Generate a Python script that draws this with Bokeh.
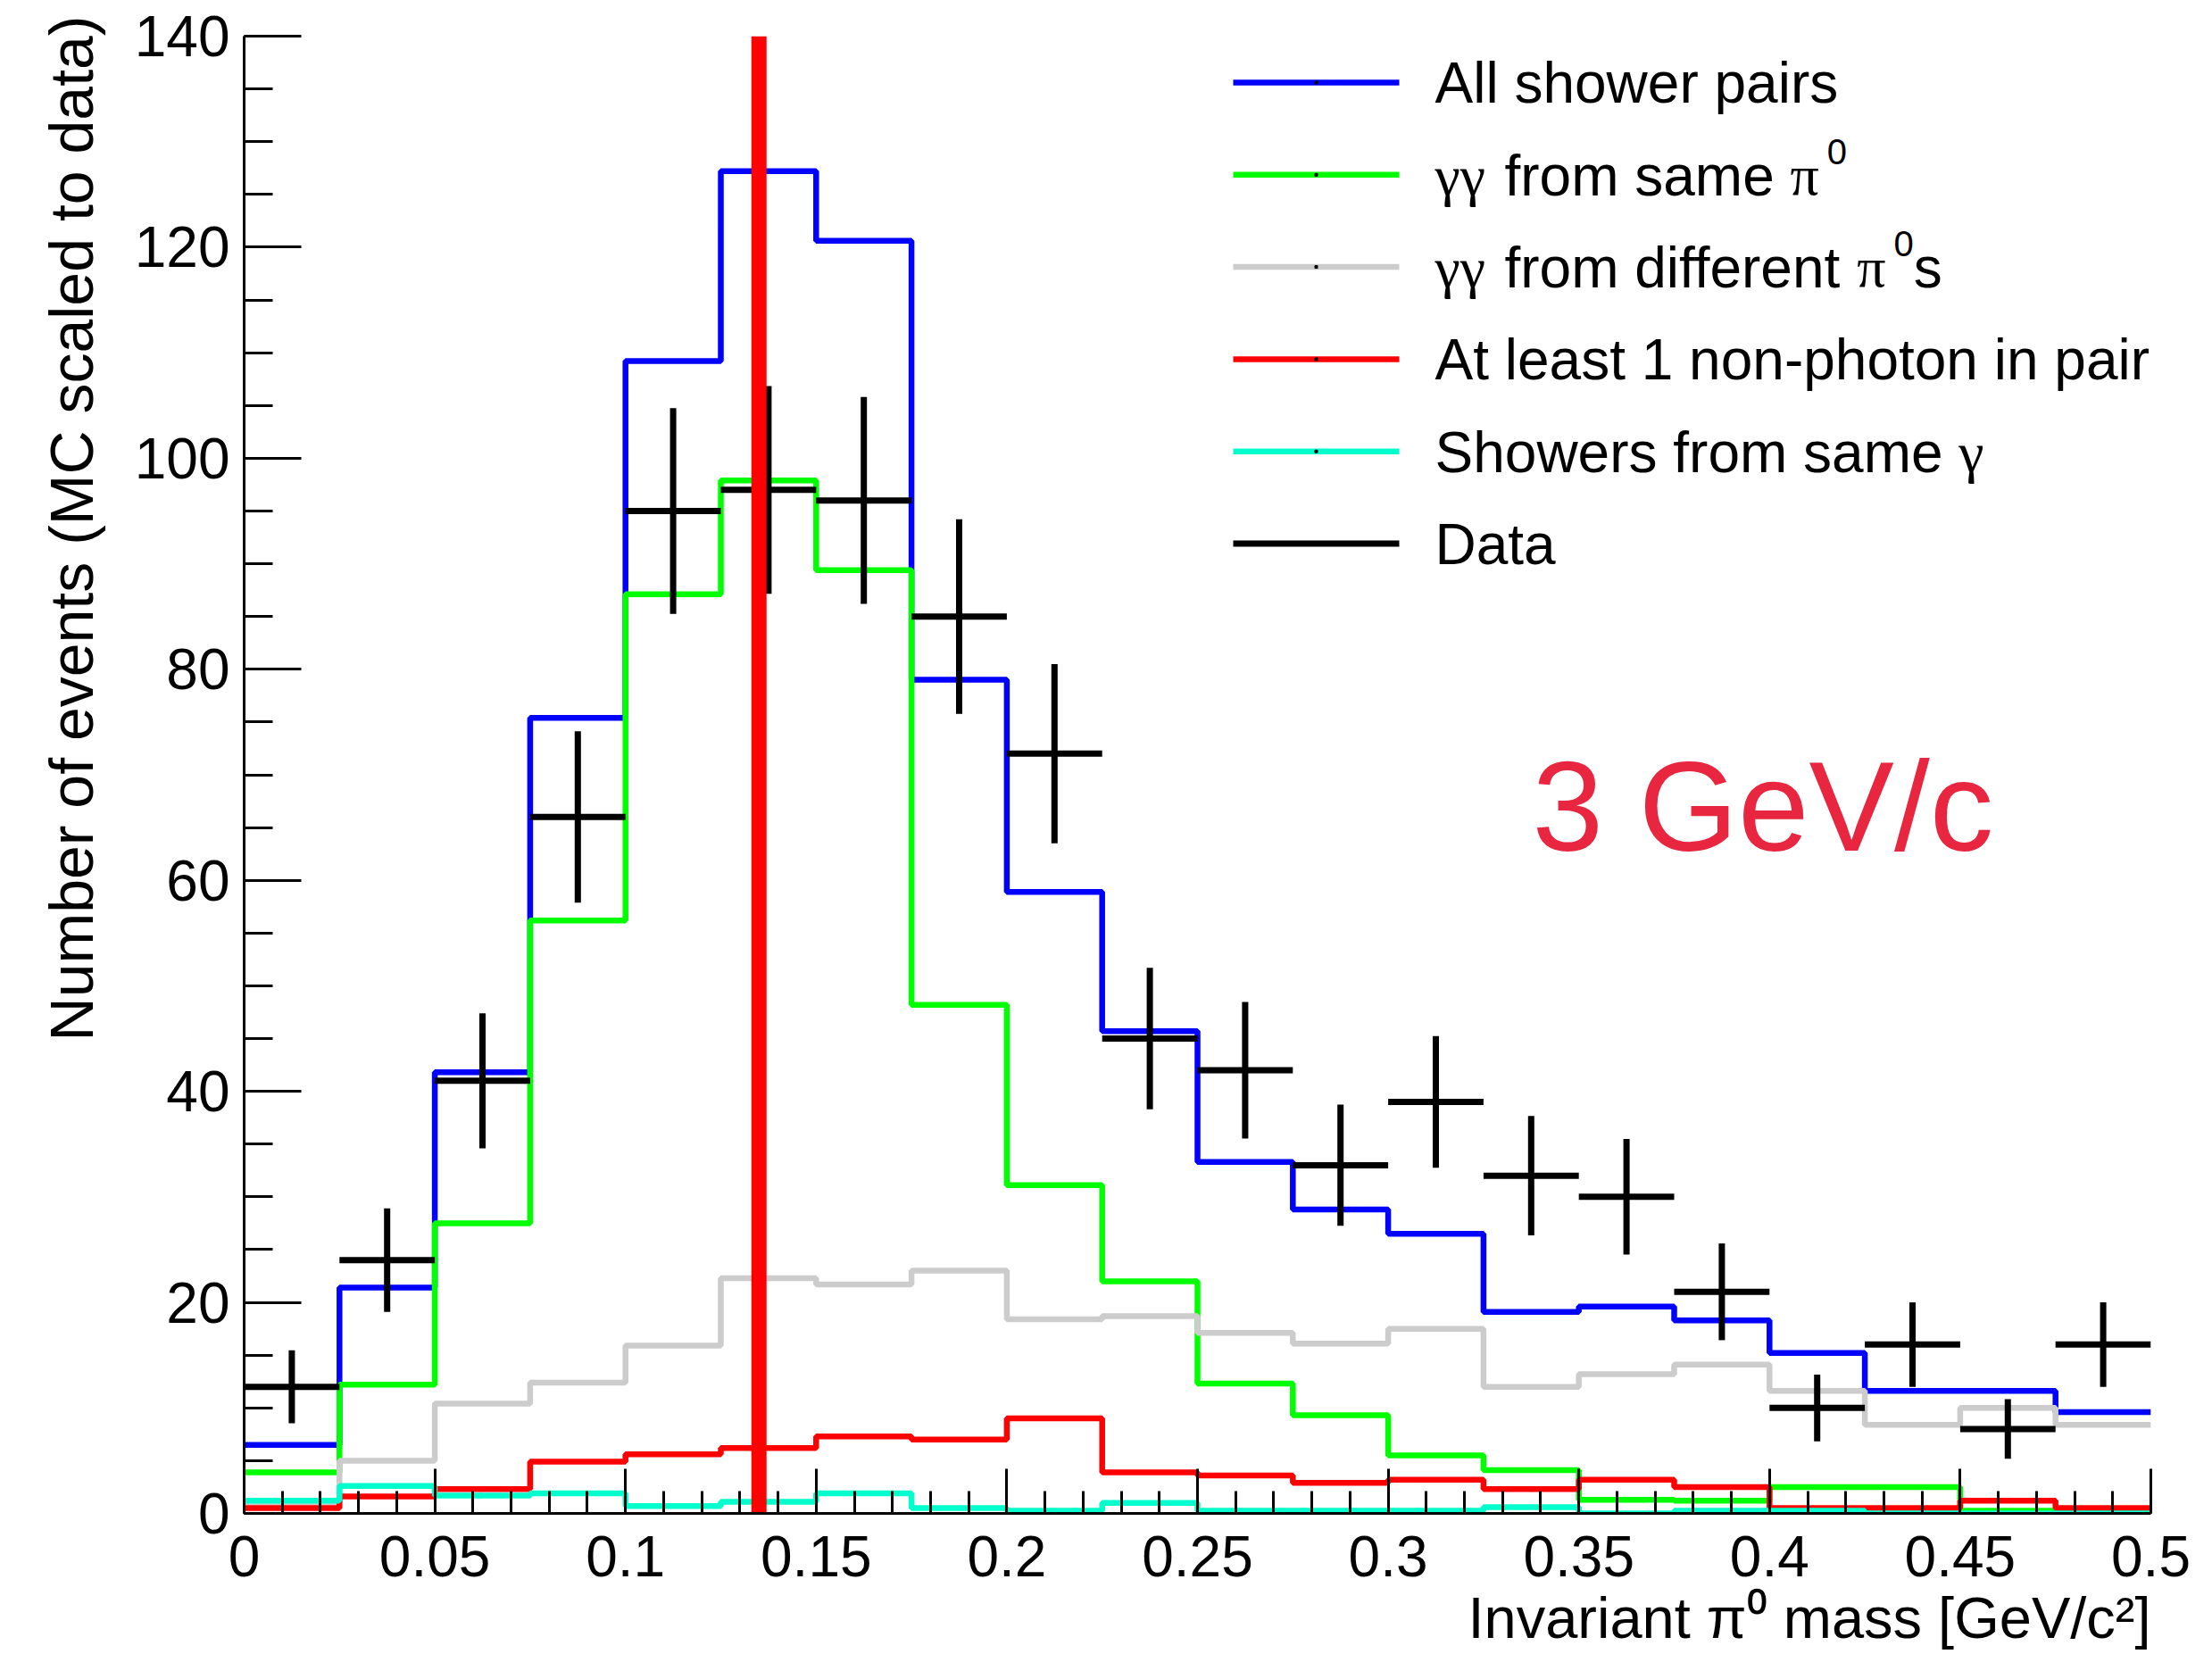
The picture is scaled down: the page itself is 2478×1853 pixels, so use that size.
import math

from bokeh.plotting import figure
from bokeh.models import Range1d, FixedTicker, NumeralTickFormatter, Label, Title
from bokeh.embed import file_html
from bokeh.resources import INLINE

# ---------------------------------------------------------------- data
x_min, x_max, n_bins = 0.0, 0.5, 20
y_min, y_max = 0, 140

all_pairs = [6.5, 21.4, 41.8, 75.4, 109.2, 127.2, 120.6, 79.0, 58.9, 45.7,
             33.3, 28.8, 26.5, 19.1, 19.6, 18.3, 15.2, 11.6, 11.6, 9.6]
same_pi0 = [3.9, 12.2, 27.5, 56.2, 87.1, 97.9, 89.4, 48.2, 31.1, 22.0,
            12.3, 9.3, 5.5, 4.1, 1.3, 1.2, 2.5, 2.5, 0.25, 0.1]
diff_pi0 = [1.0, 5.0, 10.4, 12.4, 15.9, 22.3, 21.7, 23.0, 18.4, 18.7,
            17.1, 16.1, 17.5, 12.0, 13.2, 14.1, 11.6, 8.4, 10.0, 8.4]
non_photon = [0.5, 1.6, 2.3, 4.9, 5.6, 6.2, 7.3, 7.0, 9.0, 3.9,
              3.6, 2.9, 3.2, 2.3, 3.2, 2.5, 0.5, 0.5, 1.2, 0.5]
same_gamma = [1.2, 2.6, 1.7, 1.9, 0.7, 1.1, 1.9, 0.5, 0.25, 1.0,
              0.25, 0.25, 0.25, 0.6, 0.0, 0.25, 0.25, 0.0, 0.0, 0.0]
data_counts = [12, 24, 41, 66, 95, 97, 96, 85, 72, 45,
               42, 33, 39, 32, 30, 21, 10, 16, 8, 16]
pi0_mass = 0.135

x_tick_values = [0, 0.05, 0.1, 0.15, 0.2, 0.25, 0.3, 0.35, 0.4, 0.45, 0.5]
y_tick_values = [0, 20, 40, 60, 80, 100, 120, 140]
x_title = "Invariant π⁰ mass [GeV/c²]"
y_title = "Number of events (MC scaled to data)"
momentum_label = "3 GeV/c"

# ---------------------------------------------------------------- styles
W, H = 2478, 1853
FRAME_L, FRAME_R, FRAME_T, FRAME_B = 273, 2409, 40, 1695
SANS, SERIF = "Liberation Sans", "Liberation Serif"
FS = 64            # main text size, px
Y_TITLE_FS = 68    # y axis title size, px
X_TITLE_FS = 65    # x axis title size, px
SUP_FS = 40        # superscript size, px
SUP_RAISE = 35     # superscript baseline offset, px
MID = 0.346        # em distance from the text middle to its baseline

COL_ALL = "#0000ff"
COL_SAME = "#00ff00"
COL_DIFF = "#cccccc"
COL_NONPH = "#ff0000"
COL_GAMMA = "#00ffcc"
COL_DATA = "#000000"
HIST_W = 6.5
DATA_W = 7

SANS_W = {' ': 278, '(': 333, ')': 333, '-': 333, '.': 278, '/': 278,
          '[': 278, ']': 278, 'A': 667, 'D': 722, 'G': 778, 'I': 278,
          'S': 667, 'V': 667, 'a': 556, 'c': 500, 'd': 556, 'e': 556,
          'f': 278, 'h': 556, 'i': 222, 'l': 222, 'm': 833, 'n': 556,
          'o': 556, 'p': 556, 'r': 333, 's': 500, 't': 278, 'v': 500,
          'w': 722}
SERIF_W = {'γ': 470, 'π': 550}


def text_width(s, family, size):
    table = SERIF_W if family == SERIF else SANS_W
    return sum(table.get(c, 556) for c in s) / 1000.0 * size


def px_x(px):
    return x_min + (px - FRAME_L) / (FRAME_R - FRAME_L) * (x_max - x_min)


def px_y(py):
    return y_min + (FRAME_B - py) / (FRAME_B - FRAME_T) * (y_max - y_min)


p = figure(width=W, height=H, output_backend="svg", toolbar_location=None,
           x_range=Range1d(x_min, x_max), y_range=Range1d(y_min, y_max),
           min_border_left=FRAME_L, min_border_right=W - FRAME_R,
           min_border_top=FRAME_T, min_border_bottom=H - FRAME_B)
p.outline_line_color = None
p.xgrid.visible = False
p.ygrid.visible = False
p.background_fill_color = "white"
p.border_fill_color = "white"

# axes: ticks point into the frame, ROOT style
for ax in (p.xaxis[0], p.yaxis[0]):
    ax.axis_line_width = 3
    ax.major_tick_line_width = 3
    ax.minor_tick_line_width = 3
    ax.major_tick_out = 0
    ax.minor_tick_out = 0
    ax.major_label_text_font = SANS
    ax.major_label_text_font_size = f"{FS}px"
    ax.major_label_text_color = "black"

p.xaxis.ticker = FixedTicker(ticks=x_tick_values,
                             minor_ticks=[round(0.01 * i, 2) for i in range(51)])
p.xaxis.formatter = NumeralTickFormatter(format="0.[00]")
p.xaxis.major_tick_in = 50
p.xaxis.minor_tick_in = 25
p.xaxis.major_label_standoff = 25

p.yaxis.ticker = FixedTicker(ticks=y_tick_values,
                             minor_ticks=[5 * i for i in range(29)])
p.yaxis.major_tick_in = 64
p.yaxis.minor_tick_in = 32
p.yaxis.major_label_standoff = 16

# axis titles, ending at the far end of each axis
p.add_layout(Title(text=y_title, align="right", text_font=SANS, offset=-23,
                   text_font_size=f"{Y_TITLE_FS}px", text_font_style="normal",
                   text_color="black", standoff=60), "left")
p.add_layout(Title(text=x_title, align="right", text_font=SANS,
                   text_font_size=f"{X_TITLE_FS}px", text_font_style="normal",
                   text_color="black", standoff=10), "below")

# ---------------------------------------------------------------- histograms
bin_w = (x_max - x_min) / n_bins
edges = [x_min + i * bin_w for i in range(n_bins + 1)]
series = [
    (all_pairs, COL_ALL),
    (same_pi0, COL_SAME),
    (diff_pi0, COL_DIFF),
    (non_photon, COL_NONPH),
    (same_gamma, COL_GAMMA),
]
for vals, col in series:
    p.step(edges, list(vals) + [vals[-1]], mode="after",
           line_color=col, line_width=HIST_W)

# data points with sqrt(N) error bars
lo = edges[:-1]
hi = edges[1:]
centers = [(a + b) / 2 for a, b in zip(lo, hi)]
errs = [math.sqrt(n) for n in data_counts]
p.segment(x0=lo, x1=hi, y0=data_counts, y1=data_counts,
          line_color=COL_DATA, line_width=DATA_W)
p.segment(x0=centers, x1=centers,
          y0=[n - e for n, e in zip(data_counts, errs)],
          y1=[n + e for n, e in zip(data_counts, errs)],
          line_color=COL_DATA, line_width=DATA_W)

# nominal pi0 mass
p.segment(x0=[pi0_mass], x1=[pi0_mass], y0=[y_min], y1=[y_max],
          line_color="#ff0000", line_width=17)


# ---------------------------------------------------------------- text helper
def put_text(x_px, baseline_px, text, family, size, color="black"):
    p.add_layout(Label(x=px_x(x_px), y=px_y(baseline_px - MID * size), text=text,
                       text_font=family, text_font_size=f"{size}px",
                       text_color=color, text_align="left",
                       text_baseline="middle"))


def draw_runs(x_px, baseline_px, runs, color="black"):
    """Lay out text runs (text, family, superscript?) from left to right."""
    cur = x_px
    for text, fam, sup in runs:
        size = SUP_FS if sup else FS
        stripped = text.lstrip(" ")
        cur += text_width(text[:len(text) - len(stripped)], fam, size)
        if sup:
            cur += 6
        put_text(cur, baseline_px - (SUP_RAISE if sup else 0), stripped, fam, size, color)
        cur += text_width(stripped, fam, size)


# ---------------------------------------------------------------- legend
legend_rows = [
    ([("All shower pairs", SANS, False)], COL_ALL, HIST_W),
    ([("γγ", SERIF, False), (" from same ", SANS, False),
      ("π", SERIF, False), ("0", SANS, True)], COL_SAME, HIST_W),
    ([("γγ", SERIF, False), (" from different ", SANS, False),
      ("π", SERIF, False), ("0", SANS, True), ("s", SANS, False)], COL_DIFF, HIST_W),
    ([("At least 1 non-photon in pair", SANS, False)], COL_NONPH, HIST_W),
    ([("Showers from same ", SANS, False), ("γ", SERIF, False)], COL_GAMMA, HIST_W),
    ([("Data", SANS, False)], COL_DATA, DATA_W),
]
LEG_X0, LEG_X1, LEG_TEXT_X = 1381, 1567, 1607
LEG_Y0, LEG_DY = 92, 103.3
for i, (runs, col, lw) in enumerate(legend_rows):
    yc = LEG_Y0 + i * LEG_DY
    p.segment(x0=[px_x(LEG_X0)], x1=[px_x(LEG_X1)], y0=[px_y(yc)], y1=[px_y(yc)],
              line_color=col, line_width=lw)
    if col != COL_DATA:
        p.scatter(x=[px_x((LEG_X0 + LEG_X1) / 2)], y=[px_y(yc)], marker="square",
                  size=3, fill_color="black", line_color="black")
    draw_runs(LEG_TEXT_X, yc + 23, runs)

# beam momentum tag
put_text(1716, 952, momentum_label, SANS, 143, color="#e8263f")

open("out.html", "w").write(file_html(p, INLINE))
